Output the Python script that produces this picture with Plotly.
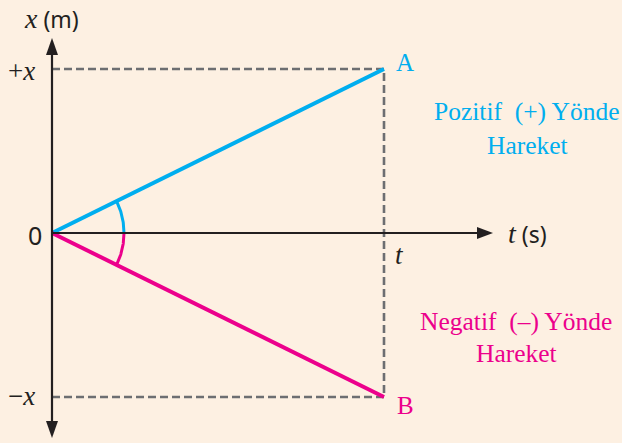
import numpy as np
import plotly.graph_objects as go

# ---- data ----
time_pts = [0, 1]          # 0 .. t
pos_A = [0, 1]             # 0 .. +x  (positive direction)
pos_B = [0, -1]            # 0 .. -x  (negative direction)
y_tick_vals = [1, 0, -1]
y_tick_text = ["+<i>x</i>", "0", "−<i>x</i>"]
t_tick_val = 1
t_tick_text = "<i>t</i>"

BG = "#FDF0E2"
BLUE = "#00AEEF"
PINK = "#EC008C"
GRAY = "#6D6E71"
INK = "#231F20"
SERIF = "Liberation Serif"
SANS = "Noto Sans"

W, H = 622, 443
OX, OY = 52, 233      # origin in pixels
SX, SY = 332, 164     # pixels per unit


def dx(px):
    return (px - OX) / SX


def dy(py):
    return (OY - py) / SY


fig = go.Figure()

# dashed guides
T = time_pts[1]
fig.add_trace(go.Scatter(x=[0, T, T, 0], y=[pos_A[1], pos_A[1], pos_B[1], pos_B[1]],
                         mode="lines", line=dict(color=GRAY, width=2.6, dash="8px,4px"),
                         hoverinfo="skip", showlegend=False))

# axes
fig.add_shape(type="line", x0=0, x1=0, y0=dy(425), y1=dy(50), line=dict(color=INK, width=2.2))
fig.add_shape(type="line", x0=0, x1=dx(480), y0=0, y1=0, line=dict(color=INK, width=2.2))
# arrowheads (pixel-sized, anchored at tips)
fig.add_shape(type="path", xsizemode="pixel", ysizemode="pixel", xanchor=0, yanchor=dy(38),
              path="M0,0 L-6,-17 L6,-17 Z", fillcolor=INK, line=dict(width=0))
fig.add_shape(type="path", xsizemode="pixel", ysizemode="pixel", xanchor=0, yanchor=dy(438),
              path="M0,0 L-6,17 L6,17 Z", fillcolor=INK, line=dict(width=0))
fig.add_shape(type="path", xsizemode="pixel", ysizemode="pixel", xanchor=dx(493), yanchor=0,
              path="M0,0 L-16,-6 L-16,6 Z", fillcolor=INK, line=dict(width=0))

# motion lines
fig.add_trace(go.Scatter(x=time_pts, y=pos_A, mode="lines", line=dict(color=BLUE, width=4),
                         hoverinfo="skip", showlegend=False))
fig.add_trace(go.Scatter(x=time_pts, y=pos_B, mode="lines", line=dict(color=PINK, width=4),
                         hoverinfo="skip", showlegend=False))

# angle arcs
r = 72
angA = np.arctan2(pos_A[1] * SY, T * SX)
th = np.linspace(0, angA, 40)
fig.add_trace(go.Scatter(x=r * np.cos(th) / SX, y=r * np.sin(th) / SY, mode="lines",
                         line=dict(color=BLUE, width=3), hoverinfo="skip", showlegend=False))
angB = np.arctan2(pos_B[1] * SY, T * SX)
th = np.linspace(0, angB, 40)
fig.add_trace(go.Scatter(x=r * np.cos(th) / SX, y=r * np.sin(th) / SY, mode="lines",
                         line=dict(color=PINK, width=3), hoverinfo="skip", showlegend=False))

ann = []


def label(x, y, text, color=INK, family=SERIF, size=25, xanchor="center"):
    ann.append(dict(x=x, y=y, xref="x", yref="y", text=text, showarrow=False,
                    font=dict(family=family, size=size, color=color),
                    xanchor=xanchor, yanchor="middle"))


# y tick labels
label(dx(21), y_tick_vals[0] + dy(71) - 1, y_tick_text[0], size=27)
label(dx(35), dy(235), y_tick_text[1], family=SANS, size=25)
label(dx(21), y_tick_vals[2] + dy(396) + 1, y_tick_text[2], size=27)
# t tick label
label(t_tick_val + dx(399) - 1, dy(255), t_tick_text, size=27)
# axis titles
label(dx(51), dy(19), "<span style='font-family:Liberation Serif;font-size:28px'><i>x</i></span> (m)",
      family=SANS, size=23)
label(dx(527), dy(234), "<span style='font-family:Liberation Serif;font-size:28px'><i>t</i></span> (s)",
      family=SANS, size=23)
# endpoints
label(T + dx(405) - 1, pos_A[1] + dy(62) - 1, "A", color=BLUE)
label(T + dx(405) - 1, pos_B[1] + dy(405) + 1, "B", color=PINK)
# descriptions
label(dx(527), dy(111), "Pozitif  (+) Yönde", color=BLUE, size=25.5)
label(dx(527), dy(145), "Hareket", color=BLUE, size=25.5)
label(dx(516), dy(321), "Negatif  (–) Yönde", color=PINK, size=25.5)
label(dx(516), dy(353), "Hareket", color=PINK, size=25.5)

fig.update_layout(
    width=W, height=H, margin=dict(l=0, r=0, t=0, b=0),
    paper_bgcolor=BG, plot_bgcolor=BG,
    xaxis=dict(range=[dx(0), dx(W)], visible=False, fixedrange=True),
    yaxis=dict(range=[dy(H), dy(0)], visible=False, fixedrange=True),
    annotations=ann, showlegend=False,
)

fig.write_html("out.html", config={"displayModeBar": False},
               post_script="document.body.style.margin='0';document.body.style.overflow='hidden';")
